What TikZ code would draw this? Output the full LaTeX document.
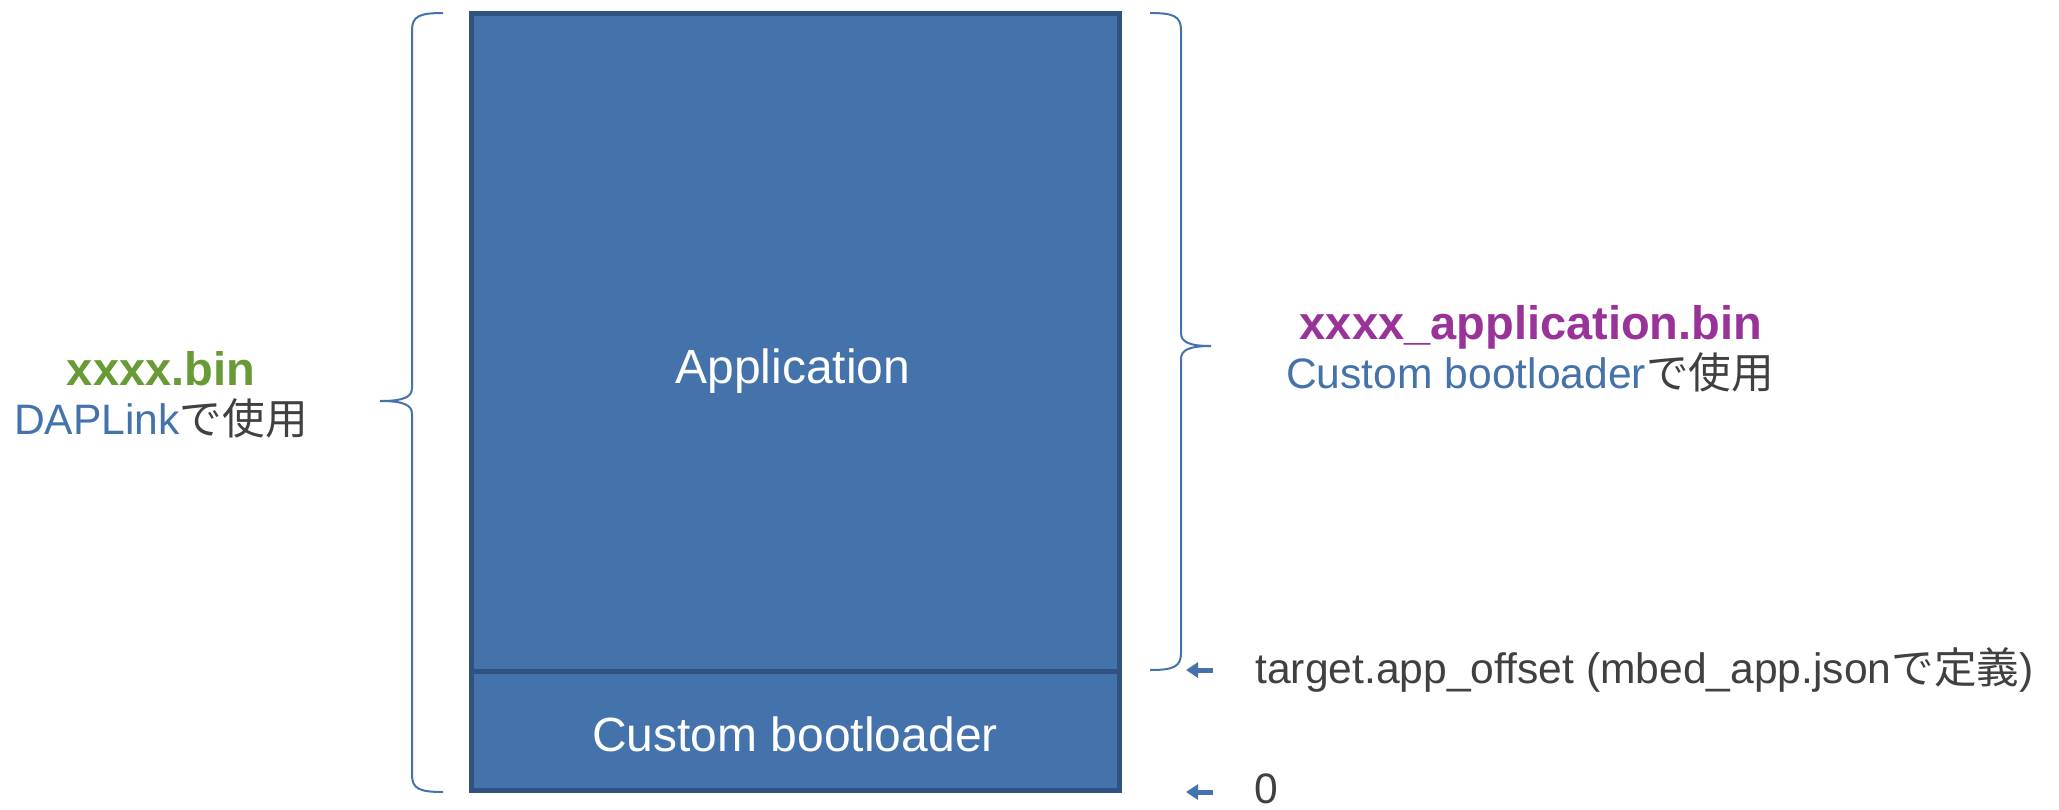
\documentclass[tikz,border=0pt]{standalone}
\usepackage{fontspec}
\setmainfont{Liberation Sans}
\newfontfamily\jpfont{Noto Sans CJK JP}
\usetikzlibrary{arrows.meta,positioning}

\definecolor{regionfill}{RGB}{68,114,170}
\definecolor{regionedge}{RGB}{47,82,128}
\definecolor{binblue}{RGB}{68,114,170}
\definecolor{bingreen}{RGB}{104,154,54}
\definecolor{binpurple}{RGB}{153,51,153}
\definecolor{notegray}{RGB}{64,64,64}

\newcommand{\jp}[1]{{\jpfont #1}}

\begin{document}
\begin{tikzpicture}[
    x=0.5pt, y=-0.5pt,
    region/.style={rectangle, draw=regionedge, fill=regionfill, line width=2.5pt, minimum width=324pt, inner sep=0pt},
    boxtext/.style={text=white, font=\fontsize{24}{28}\selectfont, anchor=base},
    binname/.style={font=\bfseries\fontsize{23.5}{28}\selectfont, anchor=base},
    note/.style={text=notegray, font=\fontsize{21.3}{26}\selectfont},
    curly/.style={draw=binblue, line width=1pt},
    marker/.style={draw=binblue, line width=2.5pt, -{Triangle[length=6pt,width=7.5pt]}}
]
    \useasboundingbox (0,0) rectangle (2059,809);

    % Flash layout
    \node[region, minimum height=329pt] (app) at (795,342) {};
    \node[region, minimum height=59.5pt] (boot) at (795,730.5) {};
    \node[boxtext] (applbl) at (793,383) {Application};
    \node[boxtext] (bootlbl) at (795,751) {Custom bootloader};

    % Braces
    \draw[curly] (443,13) .. controls (420,13) and (412,16) .. (412,30) -- (412,388)
        .. controls (412,397) and (404,401) .. (380,401)
        .. controls (404,401) and (412,405) .. (412,414) -- (412,775)
        .. controls (412,789) and (420,792) .. (443,792);
    \draw[curly] (1150,13) .. controls (1173,13) and (1181,16) .. (1181,30) -- (1181,333)
        .. controls (1181,342) and (1189,346) .. (1211,346)
        .. controls (1189,346) and (1181,350) .. (1181,359) -- (1181,653)
        .. controls (1181,667) and (1173,670) .. (1150,670);

    % Whole image (left)
    \node[binname, text=bingreen] (fullbin) at (161,385) {xxxx.bin};
    \node[note, anchor=base] (fulluse) at (161,434) {\textcolor{binblue}{DAPLink}\jp{で使用}};

    % Application image (right)
    \node[binname, text=binpurple] (appbin) at (1531,339) {xxxx\_application.bin};
    \node[note, anchor=base] (appuse) at (1530,388) {\textcolor{binblue}{Custom bootloader}\jp{で使用}};

    % Addresses
    \node[note, anchor=base west, inner sep=0pt] (offsetlbl) at (1255,683) {target.app\_offset (mbed\_app.json\jp{で定義})};
    \node[note, anchor=base west, inner sep=0pt] (zerolbl) at (1254,803) {0};
    \coordinate (offsettail) at (1213,670);
    \coordinate (offsettip) at (1186,670);
    \coordinate (zerotail) at (1213,792);
    \coordinate (zerotip) at (1186,792);
    \draw[marker] (offsettail) -- (offsettip);
    \draw[marker] (zerotail) -- (zerotip);

\end{tikzpicture}
\end{document}
